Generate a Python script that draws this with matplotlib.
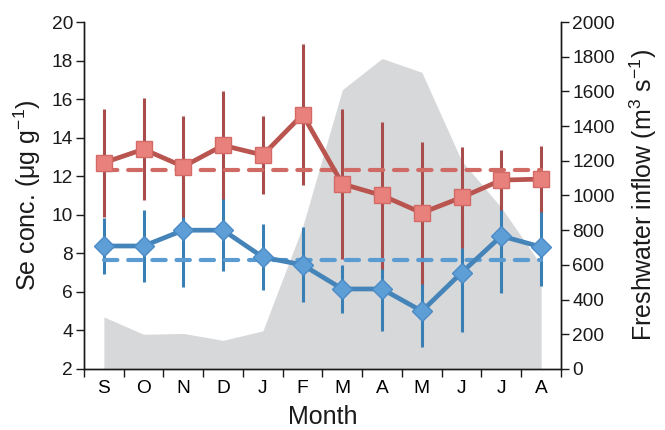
import matplotlib
matplotlib.use("Agg")
import matplotlib.pyplot as plt
import numpy as np

plt.rcParams["font.family"] = ["Liberation Sans", "DejaVu Sans"]
plt.rcParams["mathtext.fontset"] = "custom"
plt.rcParams["mathtext.rm"] = "Liberation Sans"
plt.rcParams["mathtext.it"] = "Liberation Sans:italic"

months = ["S", "O", "N", "D", "J", "F", "M", "A", "M", "J", "J", "A"]

# Se concentration, upper series (squares) and lower series (diamonds)
se_high = [12.7, 13.4, 12.5, 13.6, 13.1, 15.2, 11.6, 11.0, 10.1, 10.9, 11.8, 11.85]
se_high_err = [2.8, 2.65, 2.6, 2.8, 2.0, 3.65, 3.9, 3.8, 3.7, 2.6, 1.55, 1.7]
se_high_mean = 12.3

se_low = [8.38, 8.38, 9.2, 9.2, 7.8, 7.4, 6.15, 6.15, 5.0, 7.0, 8.9, 8.33]
se_low_err = [1.45, 1.85, 2.95, 2.1, 1.7, 1.95, 1.25, 2.2, 1.85, 3.1, 2.95, 2.0]
se_low_mean = 7.65

# freshwater inflow, m3/s
inflow = [300, 200, 205, 165, 220, 820, 1610, 1790, 1710, 1200, 930, 600]

ink = "#1a1a1a"
red_line = "#B9544F"
red_err = "#A94C4C"
red_face = "#E8817C"
red_edge = "#D46A66"
red_dash = "#D06A65"
blue_line = "#4584B8"
blue_err = "#3A7FB4"
blue_face = "#5E9ED6"
blue_edge = "#4A8BC6"
blue_dash = "#5A9BD2"
grey = "#D7D8DA"

x = np.arange(len(months))

fig = plt.figure(figsize=(6.65, 4.30), dpi=100)
ax = fig.add_axes([0.1263, 0.1419, 0.7173, 0.8069])
ax2 = ax.twinx()

ax2.fill_between(x, 0, inflow, color=grey, lw=0)
ax2.set_ylim(0, 2000)
ax2.set_yticks(np.arange(0, 2001, 200))

ax.set_zorder(ax2.get_zorder() + 1)
ax.patch.set_visible(False)

ax.errorbar(x, se_low, yerr=se_low_err, fmt="none", ecolor=blue_err,
            elinewidth=2.2, capsize=0, zorder=2)
ax.errorbar(x, se_high, yerr=se_high_err, fmt="none", ecolor=red_err,
            elinewidth=2.2, capsize=0, zorder=3)

for mean, col in ((se_high_mean, red_dash), (se_low_mean, blue_dash)):
    ax.plot([x[0], x[-1]], [mean, mean], color=col, lw=3.0,
            dashes=(3.2, 2.6), dash_capstyle="round", zorder=4)

ax.plot(x, se_low, color=blue_line, lw=3.4, marker="D", ms=10.5,
        mfc=blue_face, mec=blue_edge, mew=1.0, zorder=5)
ax.plot(x, se_high, color=red_line, lw=3.4, marker="s", ms=11,
        mfc=red_face, mec=red_edge, mew=1.0, zorder=6)

ax.set_xlim(-0.5, len(months) - 0.5)
ax.set_ylim(2, 20)
ax.set_yticks(np.arange(2, 21, 2))
ax.set_xticks(np.arange(-0.5, len(months), 1.0))
ax.set_xticklabels([])
ax.set_xticks(x, minor=True)
ax.set_xticklabels(months, minor=True)
ax.tick_params(axis="x", which="minor", length=0, pad=8)
ax.tick_params(axis="x", which="major", length=6, width=1.0, direction="out")
ax.tick_params(axis="y", length=6, width=1.0, direction="out", pad=2)
ax2.tick_params(axis="y", length=6, width=1.0, direction="out", pad=2)
for a in (ax, ax2):
    a.tick_params(labelsize=13.8, colors=ink)
ax.tick_params(axis="x", which="minor", labelsize=13.8)

for a in (ax, ax2):
    a.spines["top"].set_visible(False)
    for side in ("left", "right", "bottom"):
        a.spines[side].set_color(ink)
        a.spines[side].set_linewidth(1.0)

ax.set_xlabel("Month", fontsize=18, color=ink, labelpad=6)
ax.set_ylabel("Se conc. (\u03bcg g$^{\u22121}$)", fontsize=18, color=ink, labelpad=6)
ax2.set_ylabel("Freshwater inflow (m$^{3}$ s$^{\u22121}$)", fontsize=18, color=ink,
               labelpad=9)

fig.savefig("out.png", dpi=100)
